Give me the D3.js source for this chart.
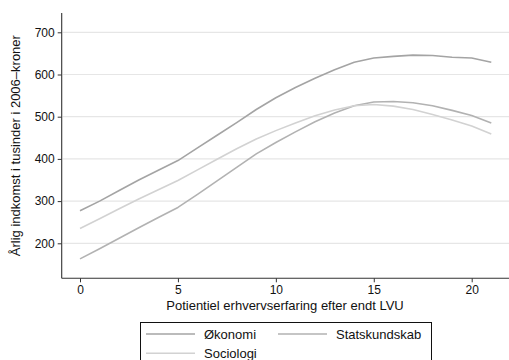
<!DOCTYPE html>
<html>
<head>
<meta charset="utf-8">
<script src="https://cdn.jsdelivr.net/npm/d3@7"></script>
<style>
  html, body { margin: 0; padding: 0; background: #fff; }
  svg { display: block; font-family: "Liberation Sans", Arial, sans-serif; }
</style>
</head>
<body>
<svg id="chart" width="509" height="360"></svg>
<script>
// Years of potential work experience after finishing a long higher education (LVU)
const experience = d3.range(0, 22);

// Annual income, thousands of 2006 kroner
const okonomi = [277, 300, 325, 350, 373, 396, 426, 456, 486, 517, 545, 569, 591, 611, 629, 639, 643, 646, 645, 641, 639, 629];
const statskundskab = [163, 187, 212, 237, 261, 285, 316, 348, 380, 412, 439, 464, 488, 509, 526, 535, 536, 533, 526, 515, 503, 485];
const sociologi = [235, 258, 282, 305, 327, 349, 374, 399, 424, 447, 467, 485, 502, 516, 526, 529, 525, 517, 505, 492, 478, 459];

const seriesNames = ["Økonomi", "Statskundskab", "Sociologi"];
const seriesValues = [okonomi, statskundskab, sociologi];
const seriesColors = ["#a4a4a4", "#b2b2b2", "#d2d2d2"];

const xTicks = [0, 5, 10, 15, 20];
const yTicks = [200, 300, 400, 500, 600, 700];

const xTitle = "Potientiel erhvervserfaring efter endt LVU";
const yTitle = "Årlig indkomst i tusinder i 2006–kroner";

const svg = d3.select("#chart");
const plot = { left: 61.7, right: 509, top: 13, bottom: 278.3 };

const x = d3.scaleLinear().domain([0, 20]).range([80, 471.7]);
const y = d3.scaleLinear().domain([200, 700]).range([243.3, 32.3]);

// horizontal grid
svg.append("g")
  .selectAll("line")
  .data(yTicks)
  .join("line")
  .attr("x1", plot.left + 1)
  .attr("x2", plot.right)
  .attr("y1", d => y(d))
  .attr("y2", d => y(d))
  .attr("stroke", "#e6e6e6")
  .attr("stroke-width", 1.2);

// series lines
const line = d3.line()
  .x((d, i) => x(experience[i]))
  .y(d => y(d));

svg.append("g")
  .selectAll("path")
  .data(seriesValues)
  .join("path")
  .attr("d", d => line(d))
  .attr("fill", "none")
  .attr("stroke", (d, i) => seriesColors[i])
  .attr("stroke-width", 1.6)
  .attr("stroke-linejoin", "round");

// y axis
const yAxis = d3.axisLeft(y)
  .tickValues(yTicks)
  .tickSize(4)
  .tickPadding(3)
  .tickFormat(d3.format("d"));

const yG = svg.append("g")
  .attr("transform", `translate(${plot.left},0)`)
  .call(yAxis);
yG.select(".domain").remove();
yG.append("line")
  .attr("x1", 0).attr("x2", 0)
  .attr("y1", plot.top).attr("y2", plot.bottom)
  .attr("stroke", "#333").attr("stroke-width", 1.1);

// x axis
const xAxis = d3.axisBottom(x)
  .tickValues(xTicks)
  .tickSize(4)
  .tickPadding(3)
  .tickFormat(d3.format("d"));

const xG = svg.append("g")
  .attr("transform", `translate(0,${plot.bottom})`)
  .call(xAxis);
xG.select(".domain").remove();
xG.append("line")
  .attr("x1", plot.left).attr("x2", plot.right)
  .attr("y1", 0).attr("y2", 0)
  .attr("stroke", "#333").attr("stroke-width", 1.1);

[yG, xG].forEach(g => {
  g.selectAll(".tick line").attr("stroke", "#333");
  g.selectAll(".tick text")
    .attr("fill", "#111")
    .style("font-size", "12px")
    .style("font-family", "'Liberation Sans', Arial, sans-serif");
});

// axis titles
svg.append("text")
  .attr("x", 285)
  .attr("y", 310)
  .attr("text-anchor", "middle")
  .attr("fill", "#111")
  .style("font-size", "13px")
  .text(xTitle);

svg.append("text")
  .attr("transform", `translate(20,${(plot.top + plot.bottom) / 2}) rotate(-90)`)
  .attr("text-anchor", "middle")
  .attr("fill", "#111")
  .style("font-size", "13px")
  .text(yTitle);

// legend
const legend = svg.append("g");
legend.append("rect")
  .attr("x", 140.5).attr("y", 322.5)
  .attr("width", 291).attr("height", 50)
  .attr("fill", "#fff")
  .attr("stroke", "#111")
  .attr("stroke-width", 1);

const legendPos = [
  { lx: 146, ty: 334 },
  { lx: 278, ty: 334 },
  { lx: 146, ty: 353.3 }
];

seriesNames.forEach((name, i) => {
  const p = legendPos[i];
  legend.append("line")
    .attr("x1", p.lx).attr("x2", p.lx + 49)
    .attr("y1", p.ty).attr("y2", p.ty)
    .attr("stroke", seriesColors[i])
    .attr("stroke-width", 1.6);
  legend.append("text")
    .attr("x", p.lx + 58)
    .attr("y", p.ty + 4.7)
    .attr("fill", "#111")
    .style("font-size", "13px")
    .text(name);
});
</script>
</body>
</html>
